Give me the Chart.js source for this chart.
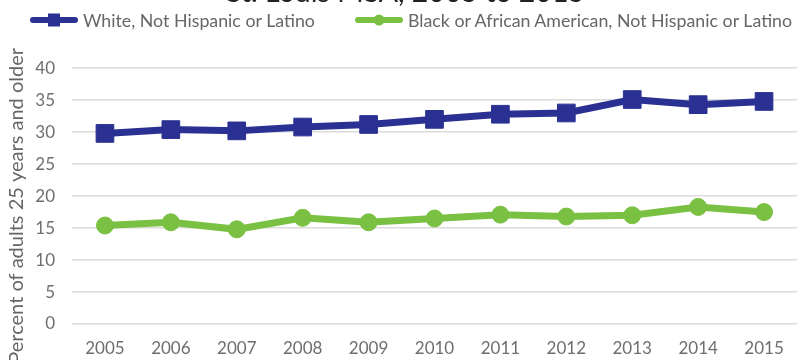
<!DOCTYPE html>
<html>
<head>
<meta charset="utf-8">
<script src="https://cdn.jsdelivr.net/npm/chart.js@4.4.1/dist/chart.umd.min.js"></script>
<style>
  html, body { margin: 0; padding: 0; background: #fff; overflow: hidden; }
  #frame { position: relative; width: 798px; height: 360px; overflow: hidden; background: #fff; }
  #plot { position: absolute; left: 0; top: -40px; width: 798px; height: 400px; }
  #legend { position: absolute; left: 30px; top: 10px; height: 20px; display: flex; align-items: center;
            font-family: Lato, sans-serif; font-size: 17.8px; color: #666; white-space: nowrap; }
  .lg-item { display: flex; align-items: center; }
  .lg-item + .lg-item { margin-left: 40px; }
  .lg-icon { position: relative; width: 48px; height: 14px; margin-right: 5px; }
  .lg-line { position: absolute; left: 0; right: 0; top: 4px; height: 6px; border-radius: 3px; }
  .lg-mark { position: absolute; left: 50%; top: 50%; transform: translate(-50%, -50%); }
</style>
</head>
<body>
<div id="frame">
  <div id="plot"><canvas id="chart"></canvas></div>
  <div id="legend"></div>
</div>
<script>
// Years on the x axis
const years = ['2005', '2006', '2007', '2008', '2009', '2010', '2011', '2012', '2013', '2014', '2015'];

// Series names
const whiteLabel = 'White, Not Hispanic or Latino';
const blackLabel = 'Black or African American, Not Hispanic or Latino';

// Percent of adults 25+ per year
const whiteValues = [29.8, 30.4, 30.2, 30.8, 31.2, 32.0, 32.8, 33.0, 35.1, 34.3, 34.8];
const blackValues = [15.4, 15.9, 14.8, 16.6, 15.9, 16.5, 17.1, 16.8, 17.0, 18.3, 17.5];

// Axis text
const yTicks = [0, 5, 10, 15, 20, 25, 30, 35, 40];
const yAxisTitle = 'Percent of adults 25 years and older';
const chartTitle = 'St. Louis MSA, 2005 to 2015';

const BLUE = '#2b3192';
const GREEN = '#7ac143';
const FONT = 'Lato, sans-serif';

// Rotated y-axis caption, placed by hand so it runs off the bottom edge
const yTitlePlugin = {
  id: 'yTitle',
  afterDraw(chart) {
    const ctx = chart.ctx;
    ctx.save();
    ctx.translate(23, 88);
    ctx.rotate(-Math.PI / 2);
    ctx.font = '20px ' + FONT;
    ctx.fillStyle = '#666';
    ctx.textAlign = 'right';
    ctx.textBaseline = 'alphabetic';
    ctx.fillText(yAxisTitle, 0, 0);
    ctx.restore();
  }
};

const chart = new Chart(document.getElementById('chart'), {
  type: 'line',
  data: {
    labels: years,
    datasets: [
      {
        label: whiteLabel,
        data: whiteValues,
        borderColor: BLUE,
        backgroundColor: BLUE,
        borderWidth: 7,
        pointStyle: 'rect',
        pointRadius: 12.5,
        pointBorderWidth: 1,
        pointBackgroundColor: BLUE,
        pointBorderColor: BLUE,
        tension: 0
      },
      {
        label: blackLabel,
        data: blackValues,
        borderColor: GREEN,
        backgroundColor: GREEN,
        borderWidth: 7,
        pointStyle: 'circle',
        pointRadius: 8.5,
        pointBorderWidth: 1,
        pointBackgroundColor: GREEN,
        pointBorderColor: GREEN,
        tension: 0
      }
    ]
  },
  options: {
    responsive: true,
    maintainAspectRatio: false,
    animation: false,
    events: [],
    layout: { autoPadding: false, padding: { left: 14, right: 1, top: 0, bottom: 0 } },
    plugins: {
      legend: { display: false },
      tooltip: { enabled: false },
      title: {
        display: true,
        text: chartTitle,
        color: '#222',
        font: { family: FONT, size: 28.5, weight: 'normal', lineHeight: 1.2 },
        padding: { top: 16, bottom: 58 }
      }
    },
    scales: {
      x: {
        type: 'category',
        offset: true,
        grid: { display: false, drawTicks: false },
        border: { display: false },
        ticks: { color: '#6e6e6e', font: { family: FONT, size: 17 }, padding: 14, maxRotation: 0 },
        afterFit(scale) {
          scale.height = 36;
          scale.paddingLeft = 0;
          scale.paddingRight = 0;
        }
      },
      y: {
        min: 0,
        max: 40,
        afterBuildTicks(scale) { scale.ticks = yTicks.map(v => ({ value: v })); },
        grid: { color: '#dcdcdc', lineWidth: 1.5, drawTicks: false },
        border: { display: false },
        ticks: { color: '#6e6e6e', font: { family: FONT, size: 17 }, padding: 17 },
        afterFit(scale) { scale.width = 58; }
      }
    }
  },
  plugins: [yTitlePlugin]
});

// Legend: a line with the series marker in its middle, followed by the name
const legend = document.getElementById('legend');
chart.data.datasets.forEach(ds => {
  const item = document.createElement('div');
  item.className = 'lg-item';
  const icon = document.createElement('span');
  icon.className = 'lg-icon';
  const line = document.createElement('span');
  line.className = 'lg-line';
  line.style.background = ds.borderColor;
  const mark = document.createElement('span');
  mark.className = 'lg-mark';
  mark.style.background = ds.borderColor;
  if (ds.pointStyle === 'circle') {
    mark.style.width = '11px'; mark.style.height = '11px'; mark.style.borderRadius = '50%';
  } else {
    mark.style.width = '12px'; mark.style.height = '13px';
  }
  icon.appendChild(line);
  icon.appendChild(mark);
  const text = document.createElement('span');
  text.textContent = ds.label;
  item.appendChild(icon);
  item.appendChild(text);
  legend.appendChild(item);
});
</script>
</body>
</html>
